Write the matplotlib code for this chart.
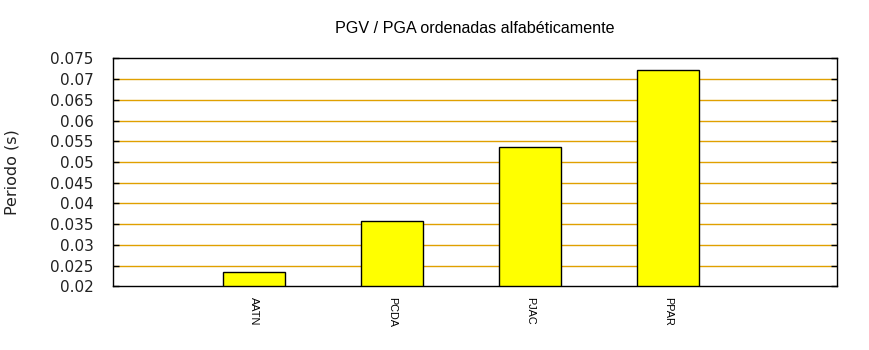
import numpy as np
import matplotlib
matplotlib.use("Agg")
import matplotlib.pyplot as plt

stations = ["AATN", "PCDA", "PJAC", "PPAR"]
periods = [0.0234, 0.0358, 0.0536, 0.0721]
yticks = [0.02, 0.025, 0.03, 0.035, 0.04, 0.045, 0.05, 0.055, 0.06, 0.065, 0.07, 0.075]
ytick_labels = ["0.02", "0.025", "0.03", "0.035", "0.04", "0.045", "0.05",
                "0.055", "0.06", "0.065", "0.07", "0.075"]

fig = plt.figure(figsize=(8.7, 3.5), dpi=100)
ax = fig.add_axes([0.13, 0.182, 0.832, 0.651])

x = np.arange(len(stations))
ax.bar(x, [p - 0.02 for p in periods], bottom=0.02, width=0.45,
       color="#ffff00", edgecolor="black", linewidth=1.0, zorder=3)

ax.set_xlim(-1.02, 4.22)
ax.set_ylim(0.02, 0.075)
ax.set_yticks(yticks)
ax.set_yticklabels(ytick_labels, fontsize=11, color="#222222")
ax.set_xticks(x)
ax.set_xticklabels(stations, rotation=270, fontsize=7.8, family="Liberation Sans")
ax.tick_params(axis="x", length=0, pad=8)
ax.tick_params(axis="y", direction="in", length=4, width=1, right=True, pad=14)

for y in yticks[1:-1]:
    ax.axhline(y, color="#e0a000", linewidth=1.0, zorder=1)

for s in ax.spines.values():
    s.set_linewidth(1.0)

ax.set_ylabel("Periodo (s)", fontsize=11.5, color="#222222", labelpad=22)
ax.set_title("PGV / PGA ordenadas alfabéticamente", fontsize=11.6,
             family="Liberation Sans", pad=18)

fig.savefig("out.png", dpi=100)
